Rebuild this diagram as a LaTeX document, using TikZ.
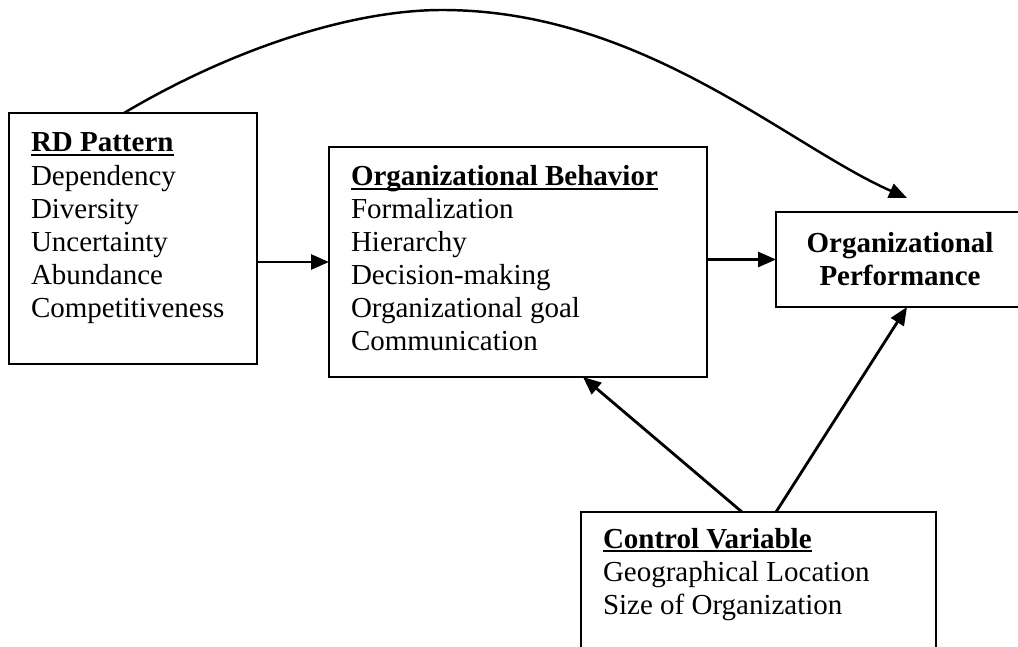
\documentclass[tikz,border=0pt]{standalone}
\usepackage{fontspec}
\setmainfont{Liberation Serif}
\usetikzlibrary{positioning,arrows.meta}

% bold heading with a low underline
\newsavebox{\hdrbox}
\newcommand{\hdr}[1]{\sbox\hdrbox{\textbf{#1}}\rlap{\rule[-0.15em]{\wd\hdrbox}{0.07em}}\usebox\hdrbox}

\begin{document}
\begin{tikzpicture}[
  box/.style={draw, line width=1.2pt, inner sep=0, outer sep=0},
  txt/.style={inner sep=0, outer sep=0, align=left, font=\fontsize{16.5}{18.8}\selectfont},
  link/.style={-{Triangle[length=0.36cm,width=0.3cm]}, line width=1.6pt}
]
  % Page
  \useasboundingbox (0,0) rectangle (20.36,-12.94);
  \clip (0,0) rectangle (20.36,-12.94);
  % Boxes
  \node[box, minimum width=4.96cm, minimum height=5.02cm] (rd) at (2.66,-4.77) {};
  \node[box, minimum width=7.56cm, minimum height=4.60cm] (ob) at (10.36,-5.24) {};
  \node[box, minimum width=4.96cm, minimum height=1.90cm, align=center,
    font=\fontsize{16.5}{18.8}\selectfont\bfseries] (op) at (18.0,-5.19)
    {Organizational\\Performance};
  \node[box, minimum width=7.10cm, minimum height=3.76cm] (cv) at (15.17,-12.12) {};
  % Box texts
  \node[txt, below right=0.40cm and 0.44cm of rd.north west] (rdtxt)
    {\hdr{RD Pattern}\\Dependency\\Diversity\\Uncertainty\\Abundance\\Competitiveness};
  \node[txt, below right=0.37cm and 0.44cm of ob.north west] (obtxt)
    {\hdr{Organizational Behavior}\\Formalization\\Hierarchy\\Decision-making\\Organizational goal\\Communication};
  \node[txt, below right=0.32cm and 0.44cm of cv.north west] (cvtxt)
    {\hdr{Control Variable}\\Geographical Location\\Size of Organization};
  % Straight links
  \draw[link] (rd.east |- ob.west) -- (ob.west);
  \draw[link] (ob.east |- op.west) -- (op.west);
  \draw[link] ([xshift=-0.33cm]cv.north) -- ([xshift=1.3cm]ob.south);
  \draw[link] ([xshift=0.35cm]cv.north) -- ([xshift=0.14cm]op.south);
  % Arc over the top
  \coordinate (optop) at ([shift={(0.14,0.28)}]op.north);
  \draw[link, line width=1.4pt] ([xshift=-0.18cm]rd.north)
    .. controls (4.6,-1.0) and (7.0,-0.2) .. (8.84,-0.2)
    .. controls (12.84,-0.2) and (15.74,-2.9) .. (optop);
\end{tikzpicture}
\end{document}
